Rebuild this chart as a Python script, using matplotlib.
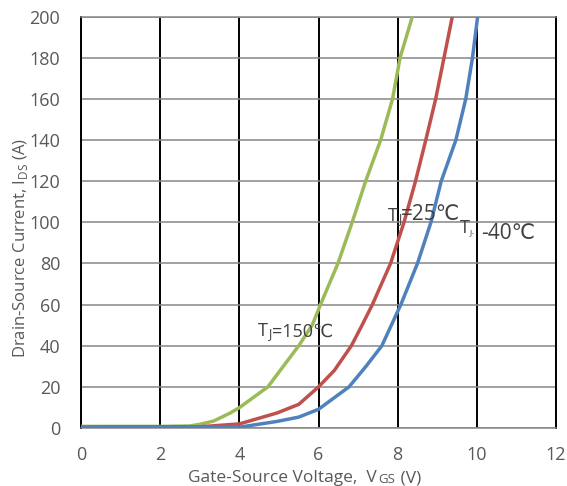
import matplotlib
matplotlib.use('Agg')
import matplotlib.pyplot as plt

# transfer curves, Vgs (V) vs Ids (A)
vgs_150 = [0, 2.0, 2.75, 3.0, 3.35, 3.77, 4.0, 4.72, 5.5, 5.84, 6.05, 6.49, 6.85, 7.19, 7.57, 7.87, 8.06, 8.37]
ids_150 = [0.8, 0.8, 1.0, 1.8, 3.4, 7.3, 9.9, 20, 40, 50, 60, 80, 100, 120, 140, 160, 180, 200]

vgs_25 = [0, 3.0, 4.0, 4.95, 5.5, 6.0, 6.4, 6.83, 7.1, 7.36, 7.82, 8.16, 8.45, 8.71, 8.96, 9.17, 9.38]
ids_25 = [0.5, 0.6, 2.0, 7.3, 11.5, 20, 28, 40, 50, 60, 80, 100, 120, 140, 160, 180, 200]

vgs_m40 = [0, 4.0, 4.95, 5.5, 6.0, 6.77, 7.2, 7.6, 7.84, 8.08, 8.5, 8.84, 9.1, 9.47, 9.72, 9.89, 10.02]
ids_m40 = [0.3, 0.4, 3.2, 5.3, 9.1, 20, 30, 40, 50, 60, 80, 100, 120, 140, 160, 180, 200]

xticks = [0, 2, 4, 6, 8, 10, 12]
yticks = list(range(0, 201, 20))

GRAY = '#595959'
DARK = '#404040'
FONT = ['Open Sans', 'DejaVu Sans']
plt.rcParams['font.family'] = FONT
plt.rcParams['mathtext.fontset'] = 'custom'
plt.rcParams['mathtext.rm'] = 'Open Sans'

fig = plt.figure(figsize=(5.67, 4.86), dpi=100)
ax = fig.add_axes([0.1429, 0.1193, 0.8377, 0.8464])

for v, i, c in [(vgs_150, ids_150, '#9BBB59'),
                (vgs_25, ids_25, '#C0504D'),
                (vgs_m40, ids_m40, '#4F81BD')]:
    ax.plot(v, i, color=c, lw=2.5, zorder=3, solid_joinstyle='round', solid_capstyle='round')

ax.set_xlim(0, 12)
ax.set_ylim(0, 200)
ax.set_xticks(xticks)
ax.set_yticks(yticks)
ax.tick_params(length=0, labelsize=13, colors=GRAY)
ax.tick_params(axis='x', pad=13)
ax.tick_params(axis='y', pad=15)

# vertical grid black, horizontal grid gray
ax.grid(axis='x', color='black', lw=1.4, zorder=1)
ax.grid(axis='y', color='#868686', lw=1.1, zorder=1)
for s in ['left', 'right']:
    ax.spines[s].set_color('black')
    ax.spines[s].set_linewidth(1.4)
for s in ['top', 'bottom']:
    ax.spines[s].set_color('#868686')
    ax.spines[s].set_linewidth(1.1)


def chain(first, pieces):
    # place text pieces one after another, each with its own size
    prev = first
    for txt, size in pieces:
        prev = ax.annotate(txt, xy=(1, 0), xycoords=prev, xytext=(1, 0),
                           textcoords='offset points', ha='left', va='bottom',
                           fontsize=size, color=GRAY, annotation_clip=False)
    return prev


# axis labels
xl = fig.text(188 / 567, 4 / 486, 'Gate-Source Voltage,  V', fontsize=12.5, color=GRAY,
              ha='left', va='baseline')
chain(xl, [('GS', 9.5), (' (V)', 12.5)])

fig.text(0.037, 0.49, r'Drain-Source Current, I$_{\mathregular{DS}}$ (A)', fontsize=12,
         color=GRAY, rotation=90, ha='center', va='center')

# curve labels
t1 = ax.text(4.48, 44.5, 'T', fontsize=13, color=DARK, va='baseline')
p = ax.annotate('J', xy=(1, 0), xycoords=t1, va='bottom', fontsize=9, color=DARK)
ax.annotate('=150\u2103', xy=(1, 0), xycoords=p, va='bottom', fontsize=13, color=DARK)

t2 = ax.text(7.75, 100.5, 'T', fontsize=13, color=DARK, va='baseline')
p = ax.annotate('J', xy=(1, 0), xycoords=t2, va='bottom', fontsize=9, color=DARK)
ax.annotate('=25\u2103', xy=(1, 0), xycoords=p, va='bottom', fontsize=15, color=DARK)

t3 = ax.text(9.56, 95, 'T', fontsize=13, color=DARK, va='baseline')
ax.annotate('J-', xy=(1, 0), xycoords=t3, va='bottom', fontsize=6, color=DARK)
ax.text(10.1, 92, '-40\u2103', fontsize=15, color=DARK, va='baseline')

fig.savefig('out.png', dpi=100)
